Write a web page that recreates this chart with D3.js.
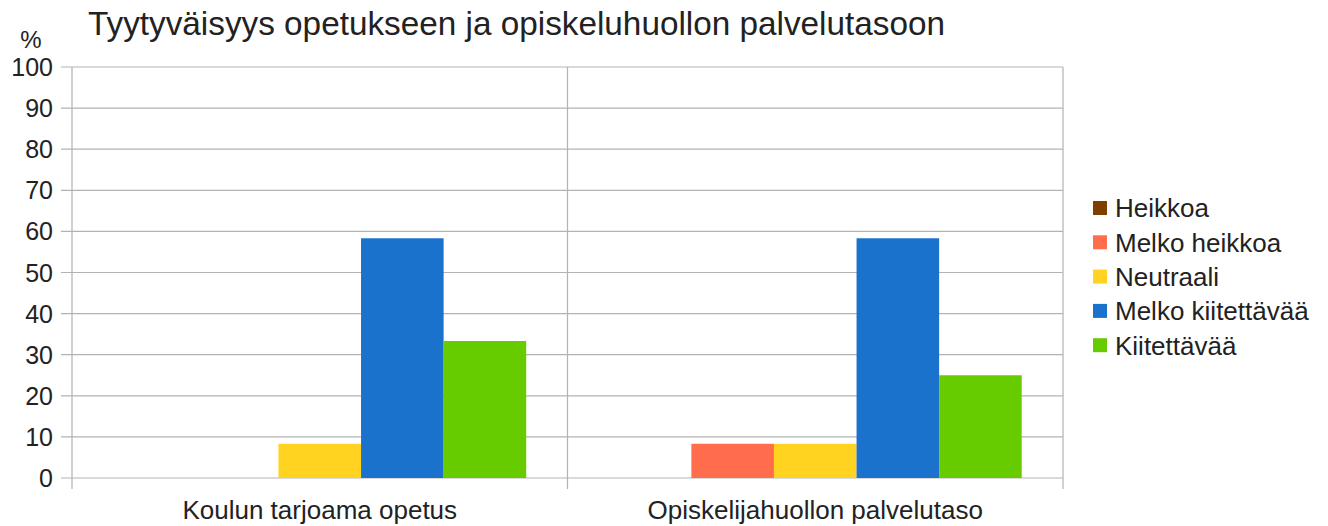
<!DOCTYPE html>
<html>
<head>
<meta charset="utf-8">
<script src="https://cdn.jsdelivr.net/npm/d3@7"></script>
<style>
  body { margin: 0; background: #fff; }
  text { font-family: "Liberation Sans", Arial, sans-serif; fill: #222; }
</style>
</head>
<body>
<div class="container"></div>
<script>
// data
const categories = ['Koulun tarjoama opetus', 'Opiskelijahuollon palvelutaso']
const seriesNames = ['Heikkoa', 'Melko heikkoa', 'Neutraali', 'Melko kiitettävää', 'Kiitettävää']
const heikkoa = [0, 0]
const melkoHeikkoa = [0, 8.33]
const neutraali = [8.33, 8.33]
const melkoKiitettava = [58.33, 58.33]
const kiitettava = [33.33, 25]
const yTicks = [0, 10, 20, 30, 40, 50, 60, 70, 80, 90, 100]

const colors = ['#7f3f00', '#ff6d4d', '#ffd320', '#1b72cc', '#66cc00']
const values = [heikkoa, melkoHeikkoa, neutraali, melkoKiitettava, kiitettava]

const width = 1328, height = 526
const svg = d3.select('.container').append('svg')
    .attr('width', width).attr('height', height)

const plotLeft = 72, plotRight = 1063, plotTop = 67, plotBottom = 478
const gridColor = '#b3b3b3'

var x0 = d3.scaleBand().domain(categories).range([plotLeft, plotRight])
var x1 = d3.scaleBand().domain(seriesNames).range([0, x0.bandwidth()]).paddingOuter(0.5)
var y = d3.scaleLinear().domain([0, 100]).range([plotBottom, plotTop])

// horizontal grid
svg.append('g').selectAll('line')
    .data(yTicks)
    .enter().append('line')
        .attr('x1', plotLeft - 11).attr('x2', plotRight)
        .attr('y1', d => y(d)).attr('y2', d => y(d))
        .attr('stroke', gridColor).attr('stroke-width', 1.2)

// vertical lines at category boundaries
const bounds = categories.map(c => x0(c)).concat([plotRight])
svg.append('g').selectAll('line')
    .data(bounds)
    .enter().append('line')
        .attr('x1', d => d).attr('x2', d => d)
        .attr('y1', plotTop)
        .attr('y2', plotBottom + 11)
        .attr('stroke', gridColor).attr('stroke-width', 1.2)

// bars
const groups = svg.append('g').selectAll('g')
    .data(categories)
    .enter().append('g')
        .attr('transform', d => `translate(${x0(d)},0)`)

groups.selectAll('rect')
    .data((c, ci) => seriesNames.map((s, si) => ({s: s, si: si, v: values[si][ci]})))
    .enter().append('rect')
        .attr('x', d => x1(d.s))
        .attr('width', x1.bandwidth())
        .attr('y', d => y(d.v))
        .attr('height', d => plotBottom - y(d.v))
        .attr('fill', d => colors[d.si])

// y tick labels
svg.append('g').selectAll('text')
    .data(yTicks)
    .enter().append('text')
        .attr('x', 53)
        .attr('y', d => y(d))
        .attr('dy', '0.36em')
        .attr('text-anchor', 'end')
        .style('font-size', '25px')
        .text(d => d)

svg.append('text')
    .attr('x', 31).attr('y', 48)
    .attr('text-anchor', 'middle')
    .style('font-size', '24px')
    .text('%')

// category labels
svg.append('g').selectAll('text')
    .data(categories)
    .enter().append('text')
        .attr('x', d => x0(d) + x0.bandwidth() / 2)
        .attr('y', 519)
        .attr('text-anchor', 'middle')
        .style('font-size', '26px')
        .text(d => d)

// title
svg.append('text')
    .attr('x', 88).attr('y', 35)
    .style('font-size', '33.3px')
    .text('Tyytyväisyys opetukseen ja opiskeluhuollon palvelutasoon')

// legend
const legend = svg.append('g').selectAll('g')
    .data(seriesNames)
    .enter().append('g')
        .attr('transform', (d, i) => `translate(1093,${208 + i * 34.3})`)

legend.append('rect')
    .attr('x', 0).attr('y', -7)
    .attr('width', 14).attr('height', 14)
    .attr('fill', (d, i) => colors[i])

legend.append('text')
    .attr('x', 22).attr('y', 0)
    .attr('dy', '0.36em')
    .style('font-size', '26px')
    .text(d => d)
</script>
</body>
</html>
